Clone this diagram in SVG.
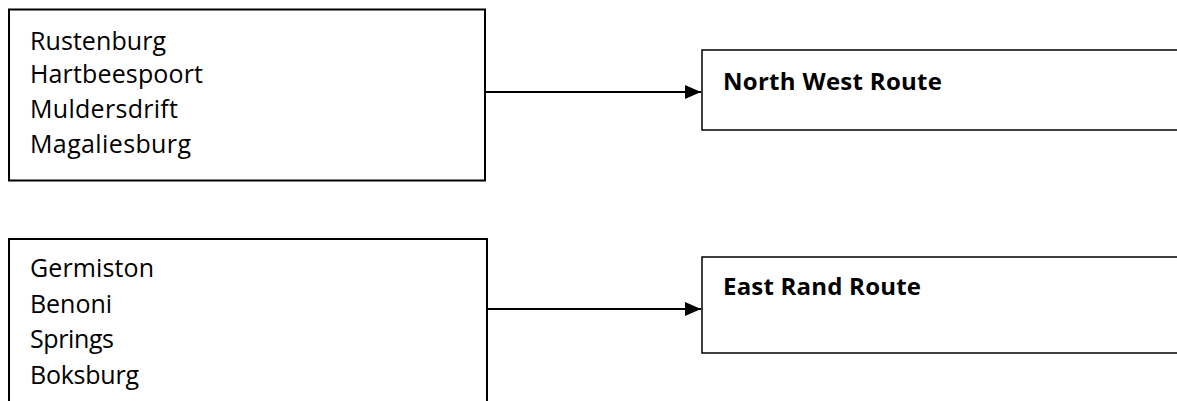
<svg xmlns="http://www.w3.org/2000/svg" width="1177" height="401" viewBox="0 0 1177 401">
<style>
.box{fill:#fff;stroke:#000;stroke-width:2}
.rbox{fill:#fff;stroke:#000;stroke-width:1.5}
.t{font-family:"Open Sans","Liberation Sans",sans-serif;font-size:25px;fill:#000}
.b{font-family:"Open Sans","Liberation Sans",sans-serif;font-size:24px;font-weight:bold;fill:#000}
.c{stroke:#000;stroke-width:2;fill:none}
</style>
<defs>
<marker id="ah" markerUnits="userSpaceOnUse" markerWidth="16" markerHeight="14" refX="16" refY="7" orient="auto">
<path d="M0,0 L16,7 L0,14 Z" fill="#000"/>
</marker>
</defs>
<g id="towns-nw">
<rect class="box" x="9" y="9.5" width="476" height="171"/>
<text class="t" x="30" y="50" textLength="136">Rustenburg</text>
<text class="t" x="30" y="83" textLength="173">Hartbeespoort</text>
<text class="t" x="30" y="118" textLength="148">Muldersdrift</text>
<text class="t" x="30" y="153" textLength="161">Magaliesburg</text>
</g>
<g id="towns-er">
<rect class="box" x="9" y="239" width="478" height="200"/>
<text class="t" x="30" y="277" textLength="124">Germiston</text>
<text class="t" x="30" y="313" textLength="82">Benoni</text>
<text class="t" x="30" y="348" textLength="84">Springs</text>
<text class="t" x="30" y="384" textLength="109">Boksburg</text>
</g>
<g id="route-nw">
<rect class="rbox" x="702" y="50" width="520" height="80"/>
<text class="b" x="723" y="90" textLength="219">North West Route</text>
</g>
<g id="route-er">
<rect class="rbox" x="702" y="257" width="520" height="96"/>
<text class="b" x="723" y="295" textLength="198">East Rand Route</text>
</g>
<g id="connectors">
<line class="c" x1="486" y1="92" x2="701" y2="92" marker-end="url(#ah)"/>
<line class="c" x1="488" y1="309" x2="701" y2="309" marker-end="url(#ah)"/>
</g>
</svg>
